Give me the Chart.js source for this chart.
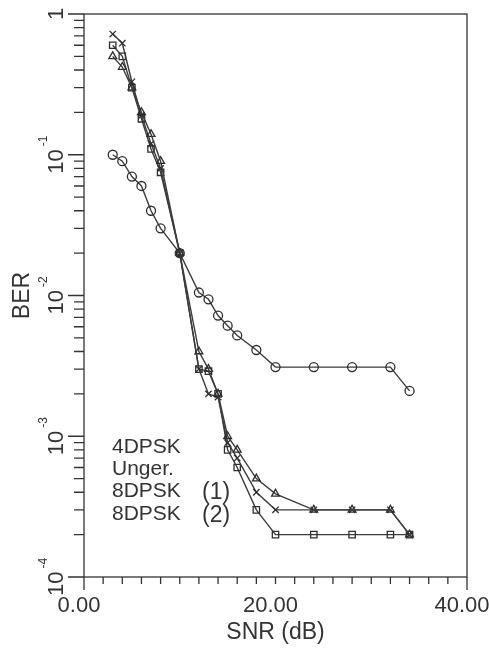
<!DOCTYPE html>
<html>
<head>
<meta charset="utf-8">
<script src="https://cdn.jsdelivr.net/npm/chart.js@4"></script>
<style>
  body { margin: 0; background: #fff; }
  canvas { display: block; }
</style>
</head>
<body>
<canvas id="berChart" width="490" height="649"></canvas>
<script>
// SNR points (dB), shared by all curves
var snr = [3, 4, 5, 6, 7, 8, 10, 12, 13, 14, 15, 16, 18, 20, 24, 28, 32, 34];

// BER
var ber4dpsk = [0.1, 0.09, 0.07, 0.06, 0.04, 0.03, 0.02, 0.0105, 0.0094, 0.0072, 0.0061, 0.0052, 0.0041, 0.0031, 0.0031, 0.0031, 0.0031, 0.0021];
var berUnger = [0.5, 0.42, 0.3, 0.2, 0.14, 0.09, 0.02, 0.004, 0.003, 0.002, 0.001, 0.0008, 0.0005, 0.00039, 0.0003, 0.0003, 0.0003, 0.0002];
var ber8dpsk1 = [0.72, 0.62, 0.33, 0.19, 0.12, 0.08, 0.02, 0.003, 0.002, 0.0019, 0.0009, 0.0007, 0.0004, 0.0003, 0.0003, 0.0003, 0.0003, 0.0002];
var ber8dpsk2 = [0.6, 0.5, 0.3, 0.18, 0.11, 0.075, 0.02, 0.003, 0.0029, 0.002, 0.0008, 0.0006, 0.0003, 0.0002, 0.0002, 0.0002, 0.0002, 0.0002];

var seriesNames = ["4DPSK", "Unger.", "8DPSK (1)", "8DPSK (2)"];
var xTickLabels = [0, 20, 40];
var yDecades = [1, 1e-1, 1e-2, 1e-3, 1e-4];
var yDecadeExp = ["", "-1", "-2", "-3", "-4"];

var ink = "#333";
var fontFam = "'Liberation Sans', Arial, sans-serif";

function pts(ys) {
    return snr.map(function (x, i) { return { x: x, y: ys[i] }; });
}

function curve(label, ys, style) {
    return {
        label: label,
        data: pts(ys),
        borderColor: "#3c3c3c",
        borderWidth: 1.4,
        pointStyle: style,
        pointRadius: 4.5,
        pointBorderColor: "#2e2e2e",
        pointBorderWidth: 1.3,
        pointBackgroundColor: "rgba(0,0,0,0)",
        showLine: true,
        fill: false,
        tension: 0
    };
}

// frame, tick marks, rotated decade labels and the text legend
var decor = {
    id: "decor",
    afterDraw: function (chart) {
        var ctx = chart.ctx, a = chart.chartArea;
        var xs = chart.scales.x, ys = chart.scales.y;
        ctx.save();
        ctx.strokeStyle = ink;
        ctx.lineWidth = 1.3;
        ctx.strokeRect(a.left, a.top, a.right - a.left, a.bottom - a.top);

        ctx.beginPath();
        for (var v = 0; v <= 40; v += 2) {
            var px = xs.getPixelForValue(v);
            var len = (v === 0 || v === 40) ? 13 : 7;
            ctx.moveTo(px, a.bottom);
            ctx.lineTo(px, a.bottom + len);
        }
        for (var k = 0; k >= -4; k--) {
            for (var m = 1; m <= 9; m++) {
                var val = m * Math.pow(10, k);
                if (val > 1 || val < 1e-4) continue;
                var py = ys.getPixelForValue(val);
                ctx.moveTo(a.left, py);
                ctx.lineTo(a.left - (m === 1 ? 16 : 10), py);
            }
        }
        ctx.stroke();

        ctx.fillStyle = ink;
        ctx.textBaseline = "alphabetic";
        yDecades.forEach(function (d, i) {
            var py = ys.getPixelForValue(d);
            ctx.save();
            ctx.translate(63, py);
            ctx.rotate(-Math.PI / 2);
            ctx.font = "22px " + fontFam;
            if (i === 0) {
                ctx.textAlign = "center";
                ctx.fillText("1", 0, 0);
            } else {
                ctx.textAlign = "left";
                var w = ctx.measureText("10").width;
                ctx.font = "12px " + fontFam;
                var we = ctx.measureText(yDecadeExp[i]).width;
                var start = -(w + 3 + we) / 2;
                ctx.font = "22px " + fontFam;
                ctx.fillText("10", start, 0);
                ctx.font = "12px " + fontFam;
                ctx.fillText(yDecadeExp[i], start + w + 3, -16);
            }
            ctx.restore();
        });

        ctx.textAlign = "left";
        var base = [453, 475, 497, 520];
        seriesNames.forEach(function (name, i) {
            var parts = name.split(" ");
            ctx.font = "21px " + fontFam;
            ctx.fillText(parts[0], 112, base[i]);
            if (parts[1]) {
                ctx.font = "23px " + fontFam;
                ctx.fillText(parts[1], 202, base[i] + 2);
            }
        });
        ctx.restore();
    }
};

var berChart = new Chart(document.getElementById("berChart").getContext("2d"), {
    type: "scatter",
    data: {
        datasets: [
            curve(seriesNames[0], ber4dpsk, "circle"),
            curve(seriesNames[1], berUnger, "triangle"),
            curve(seriesNames[2], ber8dpsk1, "crossRot"),
            curve(seriesNames[3], ber8dpsk2, "rect")
        ]
    },
    options: {
        responsive: false,
        animation: false,
        layout: { padding: { top: 14, right: 23, left: 0, bottom: 0 } },
        plugins: {
            legend: { display: false },
            tooltip: { enabled: false }
        },
        scales: {
            x: {
                type: "linear",
                min: 0,
                max: 40,
                afterFit: function (s) {
                    s.height = 72;
                    s.paddingLeft = 0;
                    s.paddingRight = 0;
                },
                afterBuildTicks: function (s) {
                    s.ticks = xTickLabels.map(function (v) { return { value: v }; });
                },
                grid: { display: false, drawTicks: false },
                border: { display: false },
                ticks: {
                    callback: function (v) { return Number(v).toFixed(2); },
                    font: { family: fontFam, size: 22 },
                    color: ink,
                    padding: 16,
                    labelOffset: -5,
                    maxRotation: 0,
                    autoSkip: false
                },
                title: {
                    display: true,
                    text: "SNR (dB)",
                    font: { family: fontFam, size: 23 },
                    color: ink,
                    padding: { top: 0, bottom: 3 }
                }
            },
            y: {
                type: "logarithmic",
                min: 1e-4,
                max: 1,
                afterFit: function (s) { s.width = 84; },
                grid: { display: false, drawTicks: false },
                border: { display: false },
                ticks: { display: false },
                title: {
                    display: true,
                    text: "BER",
                    font: { family: fontFam, size: 23 },
                    color: ink,
                    padding: { top: 9, bottom: 0 }
                }
            }
        }
    },
    plugins: [decor]
});
</script>
</body>
</html>
